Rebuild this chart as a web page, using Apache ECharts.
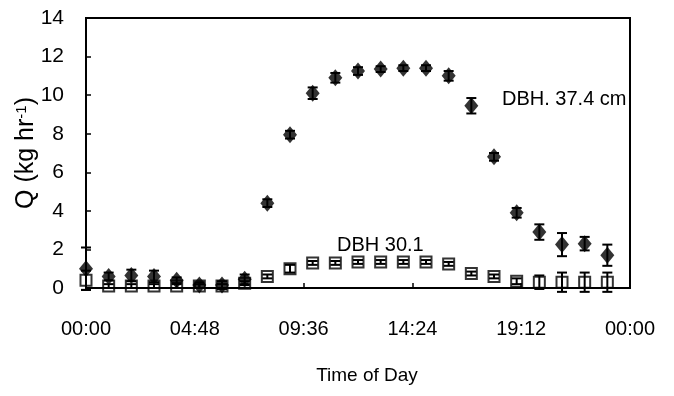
<!DOCTYPE html>
<html>
<head>
<meta charset="utf-8">
<script src="https://cdn.jsdelivr.net/npm/echarts@6/dist/echarts.min.js"></script>
<style>
  html, body { margin: 0; padding: 0; background: #fff; }
  #chart { width: 674px; height: 396px; }
</style>
</head>
<body>
<div id="chart"></div>
<script>
// hour of day for each sample
const hours = [0, 1, 2, 3, 4, 5, 6, 7, 8, 9, 10, 11, 12, 13, 14, 15, 16, 17, 18, 19, 20, 21, 22, 23];
// DBH 37.4 cm tree (filled diamonds)
const largeTreeQ = [1.0, 0.6, 0.65, 0.6, 0.4, 0.15, 0.15, 0.45, 4.4, 7.95, 10.1, 10.9, 11.25, 11.35, 11.4, 11.4, 11.0, 9.45, 6.8, 3.9, 2.9, 2.25, 2.3, 1.7];
const largeTreeErr = [1.1, 0.2, 0.3, 0.3, 0.15, 0.15, 0.2, 0.25, 0.2, 0.2, 0.3, 0.25, 0.2, 0.15, 0.15, 0.15, 0.25, 0.4, 0.2, 0.25, 0.4, 0.6, 0.35, 0.55];
// DBH 30.1 cm tree (open squares)
const smallTreeQ = [0.4, 0.1, 0.1, 0.1, 0.1, 0.1, 0.1, 0.25, 0.6, 1.0, 1.3, 1.3, 1.35, 1.35, 1.35, 1.35, 1.25, 0.75, 0.6, 0.35, 0.3, 0.3, 0.3, 0.3];
const smallTreeErr = [0.5, 0.1, 0.1, 0.1, 0.1, 0.1, 0.1, 0.1, 0.1, 0.2, 0.1, 0.1, 0.1, 0.1, 0.1, 0.1, 0.1, 0.1, 0.1, 0.15, 0.35, 0.5, 0.5, 0.5];
const xTickLabels = ['00:00', '04:48', '09:36', '14:24', '19:12', '00:00'];
const yTicks = [0, 2, 4, 6, 8, 10, 12, 14];

const FONT = '"Liberation Sans", Arial, sans-serif';

const chart = echarts.init(document.getElementById('chart'));

// error bar: vertical line with caps
function errorBarSeries(values, errs, z) {
    return {
        type: 'custom',
        z: z,
        silent: true,
        data: hours.map((h, i) => [h, values[i] - errs[i], values[i] + errs[i]]),
        encode: {x: 0, y: [1, 2]},
        renderItem: function (params, api) {
            const low = api.coord([api.value(0), api.value(1)]);
            const high = api.coord([api.value(0), api.value(2)]);
            const half = 5;
            const style = {stroke: '#000', lineWidth: 2};
            return {
                type: 'group',
                children: [
                    {type: 'line', shape: {x1: low[0], y1: low[1], x2: high[0], y2: high[1]}, style: style},
                    {type: 'line', shape: {x1: low[0] - half, y1: low[1], x2: low[0] + half, y2: low[1]}, style: style},
                    {type: 'line', shape: {x1: high[0] - half, y1: high[1], x2: high[0] + half, y2: high[1]}, style: style}
                ]
            };
        }
    };
}

const option = {
    animation: false,
    grid: {
        left: 86,
        right: 44,
        top: 18,
        bottom: 108,
        containLabel: false,
        outerBoundsMode: 'none',
        show: true,
        borderColor: '#000',
        borderWidth: 2
    },
    xAxis: {
        type: 'value',
        min: 0,
        max: 24,
        interval: 4.8,
        name: 'Time of Day',
        nameLocation: 'middle',
        nameGap: 78,
        nameMoveOverlap: false,
        nameTextStyle: {color: '#000', fontSize: 19, fontFamily: FONT, padding: [0, 0, 0, 18]},
        axisLine: {lineStyle: {color: '#000', width: 2}},
        axisTick: {inside: true, length: 5, lineStyle: {color: '#000', width: 1.5}},
        axisLabel: {
            color: '#000',
            fontSize: 20,
            fontFamily: FONT,
            margin: 31,
            formatter: (v, i) => xTickLabels[i]
        },
        splitLine: {show: false}
    },
    yAxis: {
        type: 'value',
        min: yTicks[0],
        max: yTicks[yTicks.length - 1],
        interval: 2,
        name: '{n|Q (kg hr}{s|-1}{n|)}',
        nameLocation: 'middle',
        nameGap: 47,
        nameMoveOverlap: false,
        nameRotate: 90,
        nameTextStyle: {
            rich: {
                n: {color: '#000', fontSize: 25, fontFamily: FONT},
                s: {color: '#000', fontSize: 15, fontFamily: FONT, verticalAlign: 'top', padding: [0, 0, 10, 0]}
            }
        },
        axisLine: {show: true, lineStyle: {color: '#000', width: 2}},
        axisTick: {show: true, inside: true, length: 5, lineStyle: {color: '#000', width: 1.5}},
        axisLabel: {color: '#000', fontSize: 21, fontFamily: FONT, margin: 22},
        splitLine: {show: false}
    },
    graphic: [
        {type: 'text', left: 502, top: 89, style: {text: 'DBH. 37.4 cm', fill: '#000', font: '20px ' + FONT}},
        {type: 'text', left: 337, top: 235, style: {text: 'DBH 30.1', fill: '#000', font: '20px ' + FONT}}
    ],
    series: [
        {
            name: 'DBH 30.1',
            type: 'scatter',
            z: 3,
            symbol: 'rect',
            symbolSize: 11,
            itemStyle: {color: 'rgba(255,255,255,0)', borderColor: '#000', borderWidth: 2},
            data: hours.map((h, i) => [h, smallTreeQ[i]])
        },
        errorBarSeries(smallTreeQ, smallTreeErr, 4),
        errorBarSeries(largeTreeQ, largeTreeErr, 5),
        {
            name: 'DBH 37.4 cm',
            type: 'scatter',
            z: 6,
            symbol: 'diamond',
            symbolSize: [14, 17],
            itemStyle: {color: '#000'},
            data: hours.map((h, i) => [h, largeTreeQ[i]])
        }
    ]
};

chart.setOption(option);
</script>
</body>
</html>
